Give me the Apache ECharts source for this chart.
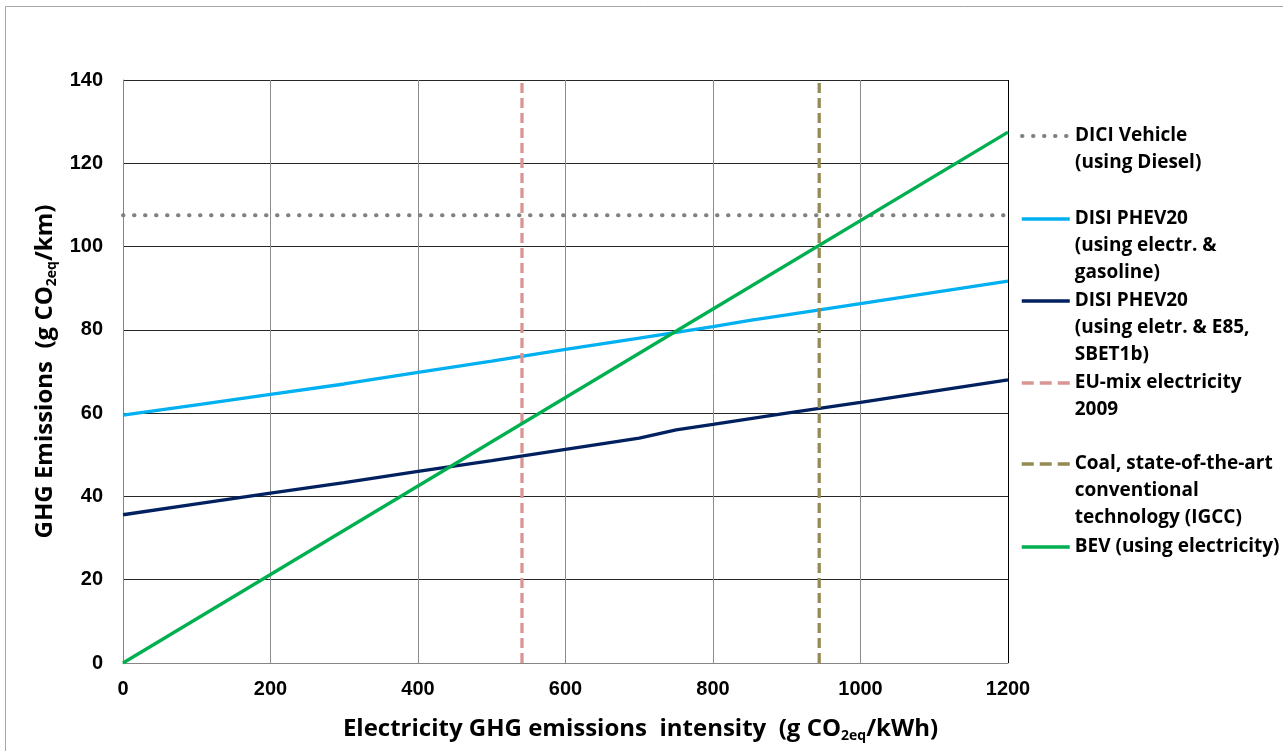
<!DOCTYPE html>
<html>
<head>
<meta charset="utf-8">
<script src="https://cdn.jsdelivr.net/npm/echarts@6/dist/echarts.min.js"></script>
<style>
html,body{margin:0;padding:0;background:#fff;}
#chart{width:1283px;height:751px;}
</style>
</head>
<body>
<div id="chart"></div>
<script>
// ---- data ----
const xTicks = [0, 200, 400, 600, 800, 1000, 1200];
const yTicks = [0, 20, 40, 60, 80, 100, 120, 140];

const diciX = [0, 1200];
const diciY = [107.5, 107.5];

const phevGasX = [0, 100, 200, 300, 400, 500, 600, 700, 800, 850, 900, 1000, 1100, 1200];
const phevGasY = [59.5, 62, 64.5, 67, 69.8, 72.5, 75.3, 78, 80.8, 82.3, 83.6, 86.3, 89, 91.7];

const phevE85X = [0, 100, 200, 300, 400, 500, 600, 700, 750, 800, 900, 1000, 1100, 1200];
const phevE85Y = [35.6, 38.2, 40.8, 43.3, 46, 48.6, 51.3, 54, 56, 57.3, 60, 62.6, 65.3, 68];

const euMixX = [541, 541];
const euMixY = [0, 140];

const coalX = [944, 944];
const coalY = [0, 140];

const bevX = [0, 400, 800, 1200];
const bevY = [0, 42.5, 85, 127.5];

const seriesNames = ['DICI', 'PHEVgas', 'PHEVe85', 'EU', 'Coal', 'BEV'];
const legendLines = {
  DICI: ['DICI Vehicle', '(using Diesel)'],
  PHEVgas: ['DISI PHEV20', '(using electr. &', 'gasoline)'],
  PHEVe85: ['DISI PHEV20', '(using eletr. & E85,', 'SBET1b)'],
  EU: ['EU-mix electricity', '2009'],
  Coal: ['Coal, state-of-the-art', 'conventional', 'technology (IGCC)'],
  BEV: ['BEV (using electricity)']
};
const legendIconY = { DICI: 136, PHEVgas: 219, PHEVe85: 301, EU: 383, Coal: 464, BEV: 547 };

function pairs(xs, ys) { return xs.map((x, i) => [x, ys[i]]); }

const FONT = '"Open Sans", sans-serif';
const LH = 27;
const legends = seriesNames.map(name => {
  const lines = legendLines[name];
  const n = lines.length;
  const text = new Array(n - 1).fill('').concat(lines).join('\n');
  const totalH = Math.max((2 * n - 1) * LH, 14);
  const ls = { width: name === 'DICI' ? 4 : 3.5 };
  if (name === 'EU' || name === 'Coal') ls.type = [12, 6];
  return {
    data: [name],
    orient: 'vertical',
    left: 1020,
    top: legendIconY[name] - totalH / 2,
    padding: 0,
    itemWidth: 48,
    itemHeight: 14,
    itemGap: 0,
    itemStyle: { opacity: 0 },
    lineStyle: ls,
    formatter: () => text,
    textStyle: {
      fontFamily: FONT,
      fontWeight: 'bold',
      fontSize: 19,
      color: '#000',
      lineHeight: LH
    }
  };
});

const richName = {
  b: { fontFamily: FONT, fontWeight: 'bold', fontSize: 24, color: '#000', lineHeight: 28 },
  s: { fontFamily: FONT, fontWeight: 'bold', fontSize: 14, color: '#000', lineHeight: 28, verticalAlign: 'bottom', padding: [12, 0, 0, 0] }
};

const chart = echarts.init(document.getElementById('chart'));
chart.setOption({
  animation: false,
  backgroundColor: '#fff',
  graphic: [{
    type: 'rect',
    shape: { x: 5.5, y: 6.5, width: 1300, height: 800 },
    style: { fill: 'none', stroke: '#a6a6a6', lineWidth: 1 },
    z: -10, silent: true
  }],
  grid: { left: 123, right: 275, top: 80, bottom: 88, containLabel: false },
  legend: legends,
  xAxis: {
    type: 'value', min: 0, max: 1200, interval: 200,
    axisLine: { show: true, lineStyle: { color: '#868686', width: 1 } },
    axisTick: { show: false },
    axisLabel: {
      margin: 16, color: '#000', fontSize: 20, fontWeight: 'bold',
      fontFamily: 'Arial, "Liberation Sans", sans-serif',
      formatter: v => xTicks.includes(v) ? String(v) : ''
    },
    splitLine: { show: true, lineStyle: { color: ['#8c8c8c', '#8c8c8c', '#8c8c8c', '#8c8c8c', '#8c8c8c', '#8c8c8c', '#000'], width: 1 } },
    name: '{b|Electricity GHG emissions  intensity  (g CO}{s|2eq}{b|/kWh)}',
    nameLocation: 'middle',
    nameGap: 52,
    nameTextStyle: { padding: [0, 0, 0, 150], rich: richName }
  },
  yAxis: {
    type: 'value', min: 0, max: 140, interval: 20,
    axisLine: { show: true, lineStyle: { color: '#868686', width: 1 } },
    axisTick: { show: false },
    axisLabel: {
      margin: 20, color: '#000', fontSize: 20, fontWeight: 'bold',
      fontFamily: 'Arial, "Liberation Sans", sans-serif',
      formatter: v => yTicks.includes(v) ? String(v) : ''
    },
    splitLine: { show: true, lineStyle: { color: '#262626', width: 1 } },
    name: '{b|GHG Emissions  (g CO}{s|2eq}{b|/km)}',
    nameLocation: 'middle',
    nameRotate: 90,
    nameGap: 64,
    nameTextStyle: { rich: richName }
  },
  series: [
    { name: 'DICI', type: 'line', data: pairs(diciX, diciY), symbol: 'none',
      lineStyle: { color: '#808080', width: 4, type: [0.5, 10.5], cap: 'round' }, itemStyle: { color: '#808080' } },
    { name: 'PHEVgas', type: 'line', data: pairs(phevGasX, phevGasY), symbol: 'none',
      lineStyle: { color: '#00B0F0', width: 3.3 }, itemStyle: { color: '#00B0F0' } },
    { name: 'PHEVe85', type: 'line', data: pairs(phevE85X, phevE85Y), symbol: 'none',
      lineStyle: { color: '#002060', width: 3.3 }, itemStyle: { color: '#002060' } },
    { name: 'EU', type: 'line', data: pairs(euMixX, euMixY), symbol: 'none',
      lineStyle: { color: '#D99594', width: 3.3, type: [10, 5] }, itemStyle: { color: '#D99594' } },
    { name: 'Coal', type: 'line', data: pairs(coalX, coalY), symbol: 'none',
      lineStyle: { color: '#948A54', width: 3.3, type: [10, 5] }, itemStyle: { color: '#948A54' } },
    { name: 'BEV', type: 'line', data: pairs(bevX, bevY), symbol: 'none',
      lineStyle: { color: '#00B050', width: 3.3 }, itemStyle: { color: '#00B050' } }
  ]
});
</script>
</body>
</html>
